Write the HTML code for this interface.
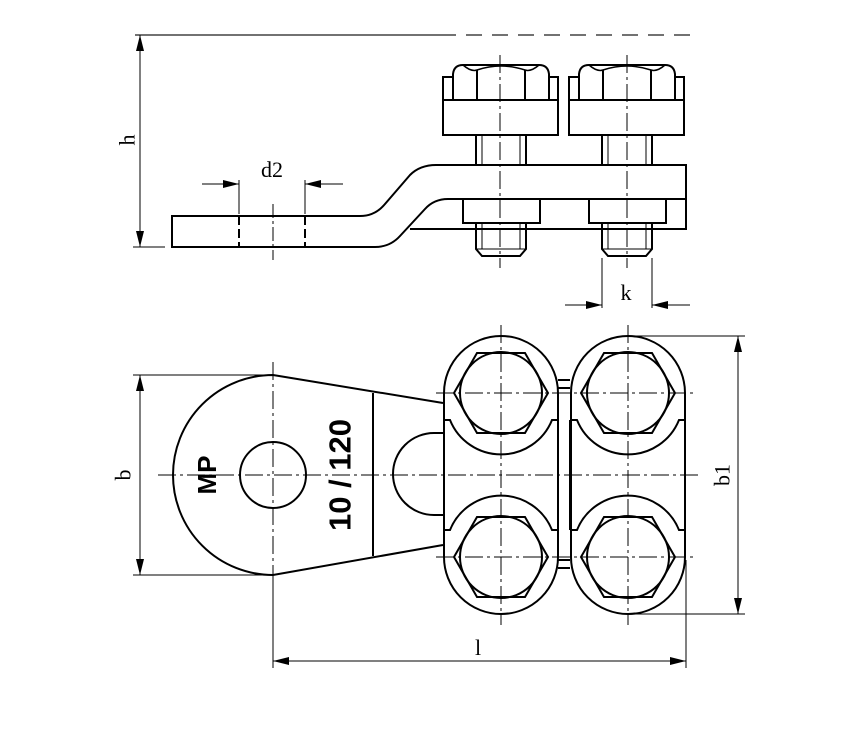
<!DOCTYPE html>
<html><head><meta charset="utf-8"><style>
html,body{margin:0;padding:0;background:#fff;}
svg{display:block;}
text{font-family:"Liberation Serif",serif;fill:#000;}
</style></head><body>
<svg width="867" height="733" viewBox="0 0 867 733" xmlns="http://www.w3.org/2000/svg">
<defs>
<marker id="a" markerWidth="16" markerHeight="8" refX="16" refY="4" orient="auto-start-reverse" markerUnits="userSpaceOnUse">
<path d="M0,0 L16,4 L0,8 z" fill="#000"/></marker>
<g id="col" fill="none" stroke="#000" stroke-width="2">
  <path d="M-57,0 A57,57 0 0 1 57,0 L57,164 A57,57 0 0 1 -57,164 Z"/>
  <path d="M-57,27 L-51,27 A55,55 0 0 0 51,27 L57,27"/>
  <path d="M-57,137 L-51,137 A55,55 0 0 1 51,137 L57,137"/>
  <path d="M-24,-40 L24,-40 L47,0 L24,40 L-24,40 L-47,0 Z"/>
  <circle cx="0" cy="0" r="41"/>
  <path d="M-24,124 L24,124 L47,164 L24,204 L-24,204 L-47,164 Z"/>
  <circle cx="0" cy="164" r="41"/>
</g>
<g id="bolt" fill="none" stroke="#000" stroke-width="2">
  <path d="M-48,100 L-48,74 Q-47,65 -38,65 L38,65 Q47,65 48,74 L48,100"/>
  <path d="M-24,100 L-24,70 M24,100 L24,70"/>
  <path d="M-38,65 Q-30,72 -24,70 Q0,62 24,70 Q30,72 38,65" stroke-width="1.5"/>
  <path d="M-48,100 L-58,100 L-58,77 L-48,77 M48,100 L57,100 L57,77 L48,77"/>
  <rect x="-58" y="100" width="115" height="35"/>
  <path d="M-25,135 L-25,165 M25,135 L25,165"/>
  <path d="M-19,135 L-19,165 M19,135 L19,165" stroke-width="1"/>
  <rect x="-38" y="199" width="77" height="24"/>
  <path d="M-25,223 L-25,249 L-19,256 L19,256 L25,249 L25,223"/>
  <path d="M-25,249 L25,249" stroke-width="1"/>
  <path d="M-19,223 L-19,249 M19,223 L19,249" stroke-width="1"/>
</g>
</defs>

<g fill="none" stroke="#000">
  <line x1="135" y1="35" x2="440" y2="35" stroke-width="1.5" stroke="#444"/>
  <line x1="440" y1="35" x2="690" y2="35" stroke-width="1.5" stroke="#444" stroke-dasharray="16,10"/>
  <line x1="140" y1="35" x2="140" y2="247" stroke-width="1" marker-start="url(#a)" marker-end="url(#a)"/>
  <line x1="133" y1="247" x2="165" y2="247" stroke-width="1"/>
  <path d="M360,216 L172,216 L172,247 L375,247 Q390,247 400,236 L425,209 Q434,199 448,199 L686,199 M360,216 Q375,216 385,204 L410,175 Q420,165 436,165 L686,165 L686,229 L410,229" stroke-width="2"/>
  <path d="M239,216 V247 M305,216 V247" stroke-width="2" stroke-dasharray="9,4"/>
  <line x1="273" y1="204" x2="273" y2="260" stroke-width="1" stroke-dasharray="14,3,3,3"/>
  <line x1="239" y1="180" x2="239" y2="214" stroke-width="1"/>
  <line x1="305" y1="180" x2="305" y2="214" stroke-width="1"/>
  <line x1="202" y1="184" x2="239" y2="184" stroke-width="1" marker-end="url(#a)"/>
  <line x1="343" y1="184" x2="305" y2="184" stroke-width="1" marker-end="url(#a)"/>
  <line x1="602" y1="258" x2="602" y2="308" stroke-width="1"/>
  <line x1="652" y1="258" x2="652" y2="308" stroke-width="1"/>
  <line x1="565" y1="305" x2="602" y2="305" stroke-width="1" marker-end="url(#a)"/>
  <line x1="690" y1="305" x2="652" y2="305" stroke-width="1" marker-end="url(#a)"/>
</g>
<g fill="#fff"><rect x="443" y="100" width="115" height="35"/><rect x="569" y="100" width="115" height="35"/></g>
<use href="#bolt" x="501" y="0"/>
<use href="#bolt" x="627" y="0"/>
<g stroke="#000" stroke-width="1" stroke-dasharray="18,4,3,4">
  <line x1="500" y1="55" x2="500" y2="268"/>
  <line x1="627" y1="55" x2="627" y2="268"/>
</g>
<text x="127" y="140" font-size="22" text-anchor="middle" transform="rotate(-90 127 140)" dominant-baseline="central">h</text>
<text x="272" y="177" font-size="22" text-anchor="middle">d2</text>
<text x="626" y="300" font-size="22" text-anchor="middle">k</text>

<g fill="none" stroke="#000" stroke-width="2">
  <path d="M273,375 A100,100 0 0 0 273,575 L443,545 M273,375 L443,403"/>
  <circle cx="273" cy="475" r="33"/>
  <line x1="373" y1="393" x2="373" y2="556"/>
  <path d="M443,433 L434,433 A41,41 0 0 0 434,515 L443,515"/>
  <path d="M558,380 L570,380 M558,388 L570,388 M558,420 V530 M570,420 V530 M558,560 L570,560 M558,568 L570,568"/>
</g>
<use href="#col" x="501" y="393"/>
<use href="#col" x="628" y="393"/>
<g stroke="#000" stroke-width="1" fill="none">
  <line x1="133" y1="375" x2="273" y2="375"/>
  <line x1="133" y1="575" x2="273" y2="575"/>
  <line x1="140" y1="375" x2="140" y2="575" marker-start="url(#a)" marker-end="url(#a)"/>
  <line x1="628" y1="336" x2="745" y2="336"/>
  <line x1="628" y1="614" x2="745" y2="614"/>
  <line x1="738" y1="336" x2="738" y2="614" marker-start="url(#a)" marker-end="url(#a)"/>
  <line x1="273" y1="580" x2="273" y2="668"/>
  <line x1="686" y1="560" x2="686" y2="668"/>
  <line x1="273" y1="661" x2="686" y2="661" marker-start="url(#a)" marker-end="url(#a)"/>
</g>
<g stroke="#000" stroke-width="1" stroke-dasharray="18,4,3,4">
  <line x1="158" y1="475" x2="700" y2="475"/>
  <line x1="273" y1="362" x2="273" y2="590"/>
  <line x1="501" y1="325" x2="501" y2="625"/>
  <line x1="628" y1="325" x2="628" y2="625"/>
  <line x1="436" y1="393" x2="695" y2="393"/>
  <line x1="436" y1="557" x2="695" y2="557"/>
</g>
<text x="123" y="475" font-size="22" text-anchor="middle" transform="rotate(-90 123 475)" dominant-baseline="central">b</text>
<text x="722" y="475" font-size="22" text-anchor="middle" transform="rotate(-90 722 475)" dominant-baseline="central">b1</text>
<text x="478" y="655" font-size="22" text-anchor="middle">l</text>
<text x="207" y="475" font-size="26" font-weight="bold" text-anchor="middle" transform="rotate(-90 207 475)" dominant-baseline="central" style="font-family:'Liberation Sans',sans-serif">MP</text>
<text x="340" y="475" font-size="31" font-weight="bold" text-anchor="middle" transform="rotate(-90 340 475)" dominant-baseline="central" style="font-family:'Liberation Sans',sans-serif">10 / 120</text>
</svg>
</body></html>
